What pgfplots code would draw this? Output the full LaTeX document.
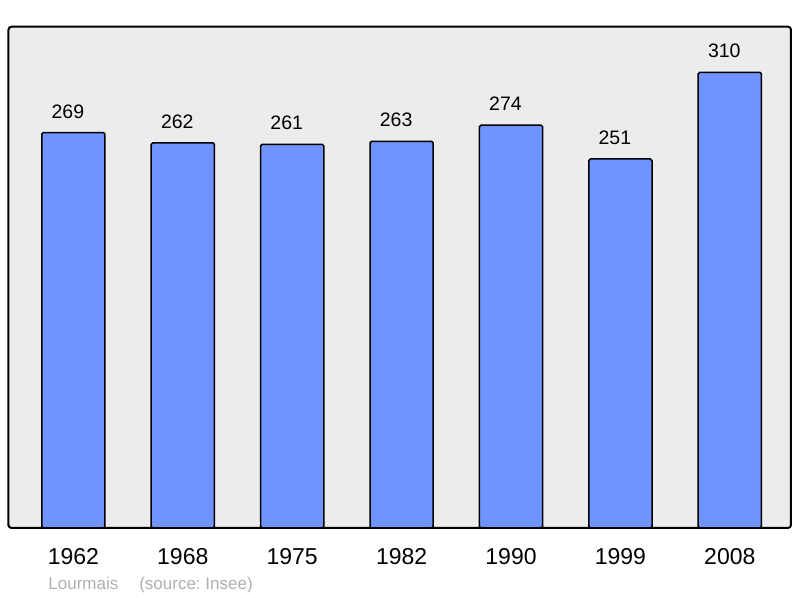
\documentclass[border=0pt]{standalone}
\usepackage{fontspec}
\setmainfont{Liberation Sans}
\usepackage{pgfplots}
\pgfplotsset{compat=1.18}
\definecolor{barblue}{RGB}{112,148,255}
\definecolor{bggray}{RGB}{236,236,236}
\definecolor{capgray}{RGB}{176,176,176}
\frenchspacing

\begin{document}
\begin{tikzpicture}
% page: 800x598 px at 0.5pt per px, frame lower-left at the origin
\path[use as bounding box] (-4.25pt,-35pt) rectangle (395.75pt,264pt);
\begin{axis}[
    at={(0,0)}, anchor=south west,
    scale only axis,
    width=391.25pt, height=250.65pt,
    xmin=-0.593, xmax=6.559,
    ymin=0, ymax=341,
    axis background/.style={fill=bggray},
    axis line style={line width=1pt, rounded corners=1.5pt},
    ybar, bar width=31.6pt, bar shift=0pt,
    xtick={0,...,6},
    xticklabels={1962,1968,1975,1982,1990,1999,2008},
    major tick length=0pt,
    ytick=\empty,
    /pgf/number format/assume math mode=true,
    xticklabel style={font=\fontsize{11.5}{13}\selectfont, anchor=base, yshift=-18.5pt},
    nodes near coords,
    every node near coord/.append style={font=\fontsize{9.75}{11}\selectfont, anchor=base, inner sep=0pt, yshift=7.2pt, xshift=-2.75pt, black},
    clip=false,
]
\addplot[fill=barblue, draw=black, line width=0.75pt, rounded corners=0.8pt] coordinates {
    (0,269) (1,262) (2,261) (3,263) (4,274) (5,251) (6,310)
};
\node[anchor=base west, inner sep=0pt, text=capgray, font=\fontsize{8.5}{10}\selectfont]
    at (rel axis cs:0,0) [xshift=19.75pt, yshift=-31pt] {Lourmais\hspace{10.5pt}(source: Insee)};
\end{axis}
\end{tikzpicture}
\end{document}
